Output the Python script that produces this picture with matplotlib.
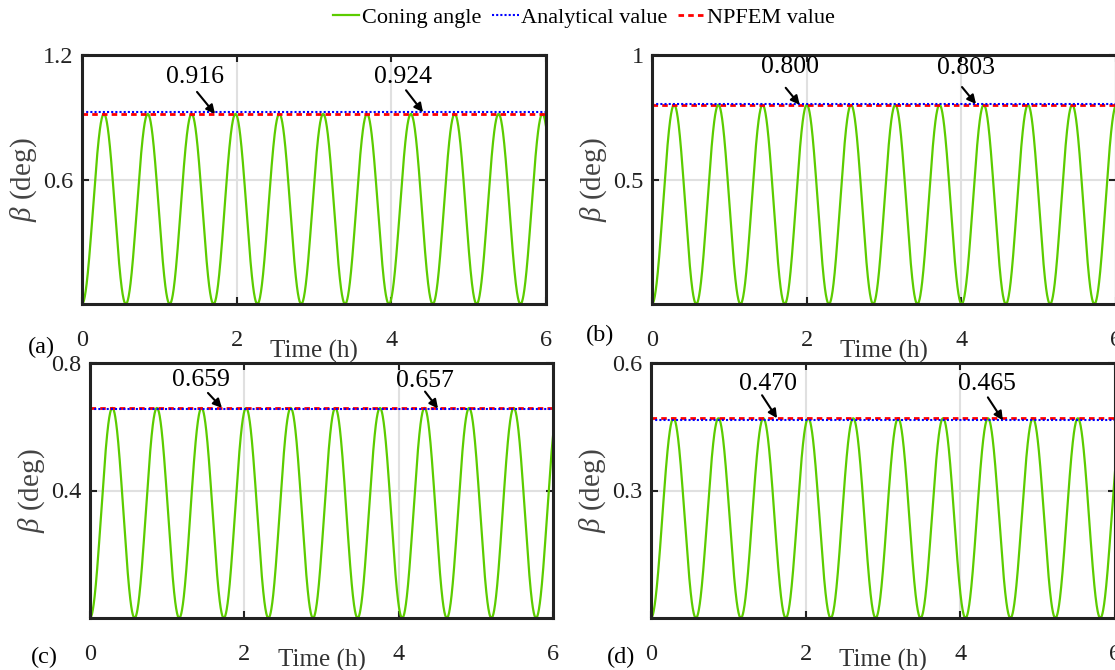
import numpy as np
import matplotlib
matplotlib.use('Agg')
import matplotlib.pyplot as plt
from matplotlib.lines import Line2D

plt.rcParams['font.family'] = ['Liberation Serif', 'DejaVu Serif']
plt.rcParams['mathtext.fontset'] = 'custom'
plt.rcParams['mathtext.rm'] = 'Liberation Serif'
plt.rcParams['mathtext.it'] = 'Liberation Serif:italic'

# data
panels = ['(a)', '(b)', '(c)', '(d)']
npfem_val = [0.916, 0.800, 0.659, 0.470]        # peak of coning angle
analytic_val = [0.924, 0.803, 0.657, 0.465]
period_h = [0.567, 0.572, 0.578, 0.581]          # oscillation period (h)
y_max = [1.2, 1.0, 0.8, 0.6]
y_ticks = [[0.6, 1.2], [0.5, 1], [0.4, 0.8], [0.3, 0.6]]
y_ticklabels = [['0.6', '1.2'], ['0.5', '1'], ['0.4', '0.8'], ['0.3', '0.6']]
x_ticks = [0, 2, 4, 6]
arrow_t_npfem = [1.72, 1.91, 1.71, 1.63]         # where the arrows touch the lines
arrow_t_analytic = [4.41, 4.19, 4.51, 4.55]
t_end = 6.0

W, H = 1115, 670
fig = plt.figure(figsize=(W / 100, H / 100), dpi=100)

# axes boxes in pixels: left, top, right, bottom
boxes = [(82, 55, 546, 304), (652, 55, 1116, 304),
         (90, 363, 553, 618), (651, 363, 1115, 618)]
lab_pos = [(41, 347), (600, 335), (44, 657), (621, 657)]
txt_off = [[(-20, 37), (-20, 35)], [(-10, 38), (-10, 36)],
           [(-21, 28), (-13, 28)], [(-9, 34), (-16, 36)]]
arr_off = [[(-18, 22), (-17, 22)], [(-14, 17), (-14, 17)],
           [(-14, 15), (-13, 17)], [(-15, 23), (-15, 23)]]
xlab_y = [-0.19, -0.19, -0.165, -0.165]

green = '#5ccc00'
dark = '#222222'

for i in range(4):
    l, t, r, b = boxes[i]
    ax = fig.add_axes([l / W, 1 - b / H, (r - l) / W, (b - t) / H])
    tt = np.linspace(0, t_end, 2000)
    beta = npfem_val[i] * (1 - np.cos(2 * np.pi * tt / period_h[i])) / 2
    ax.plot(tt, beta, color=green, lw=1.6, zorder=3)
    ax.axhline(npfem_val[i], color='#ff0000', ls=(0, (2, 1.5)), lw=2.0, zorder=4)
    ax.axhline(analytic_val[i], color='#0000ff', ls=(0, (1, 1)), lw=1.5, zorder=5)

    ax.set_xlim(0, 6)
    ax.set_ylim(0, y_max[i])
    ax.set_xticks(x_ticks)
    ax.set_yticks(y_ticks[i])
    ax.set_yticklabels(y_ticklabels[i])
    ax.grid(True, color='#e0e0e0', lw=1.5, zorder=0)
    ax.set_axisbelow(True)
    for s in ax.spines.values():
        s.set_linewidth(2.2)
        s.set_color(dark)
        s.set_zorder(6)
    ax.tick_params(axis='both', direction='in', length=5, width=1.5,
                   colors=dark, labelsize=17.5, top=True, right=True)
    ax.tick_params(axis='x', pad=19)
    ax.tick_params(axis='y', pad=6)

    ax.set_xlabel('Time (h)', fontsize=18, color='#333333')
    ax.xaxis.set_label_coords(0.5, xlab_y[i])
    ax.xaxis.label.set_va('center')
    ax.set_ylabel(r'$\beta$ (deg)', fontsize=21, color='#444444', labelpad=3)

    for j, (tv, val, txt) in enumerate([(arrow_t_npfem[i], npfem_val[i], '%.3f' % npfem_val[i]),
                                        (arrow_t_analytic[i], analytic_val[i], '%.3f' % analytic_val[i])]):
        ax.annotate('', xy=(tv, val), xytext=arr_off[i][j], textcoords='offset pixels',
                    arrowprops=dict(arrowstyle='-|>', color='black', lw=1.5,
                                    mutation_scale=13, shrinkA=0, shrinkB=0), zorder=7)
        ax.annotate(txt, xy=(tv, val), xytext=txt_off[i][j], textcoords='offset pixels',
                    ha='center', va='center', fontsize=18.5, color='black', zorder=7)

    fig.text(lab_pos[i][0] / W, 1 - lab_pos[i][1] / H, panels[i],
             ha='center', va='center', fontsize=17.5, color='black')

handles = [Line2D([], [], color=green, lw=1.6),
           Line2D([], [], color='#0000ff', ls=(0, (1, 1)), lw=1.5),
           Line2D([], [], color='#ff0000', ls=(0, (2, 1.5)), lw=2.0)]
fig.legend(handles, ['Coning angle', 'Analytical value', 'NPFEM value'],
           loc='center', bbox_to_anchor=(584 / W, 1 - 18 / H), ncol=3,
           frameon=False, fontsize=16, handlelength=1.2, handletextpad=0.1,
           columnspacing=0.5)

fig.savefig('out.png', dpi=100)
